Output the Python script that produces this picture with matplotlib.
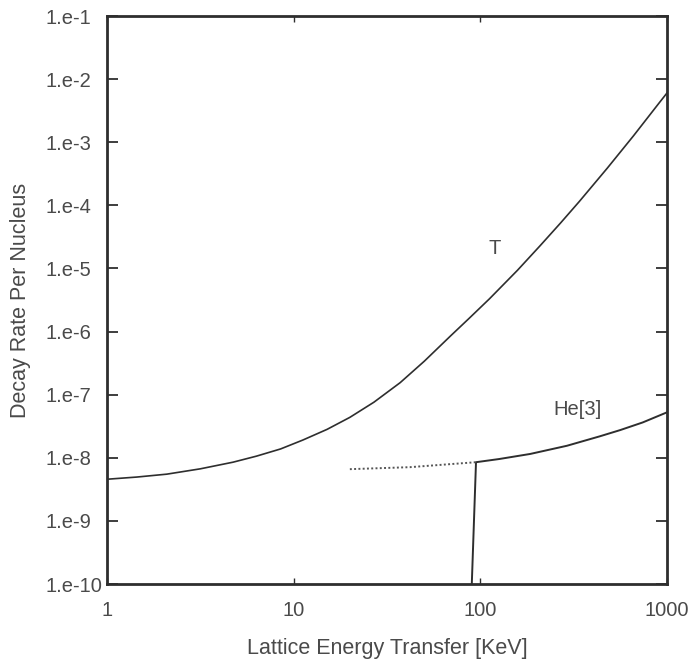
import matplotlib
matplotlib.use("Agg")
import matplotlib.pyplot as plt
from matplotlib.ticker import NullLocator

# T curve
t_energy = [1, 1.445, 2.09, 3.16, 4.73, 6.31, 8.51, 11.2, 15.1, 20.0, 26.9, 37.2,
            50.1, 69.2, 87.1, 112, 158, 209, 269, 339, 479, 661, 912, 1000]
t_rate = [4.57e-9, 4.95e-9, 5.5e-9, 6.68e-9, 8.51e-9, 1.06e-8, 1.38e-8, 1.91e-8,
          2.82e-8, 4.37e-8, 7.59e-8, 1.55e-7, 3.39e-7, 8.51e-7, 1.62e-6, 3.31e-6,
          9.33e-6, 2.29e-5, 5.25e-5, 1.15e-4, 3.89e-4, 1.26e-3, 4.27e-3, 6.03e-3]

# He[3] curve: threshold step and the solid part above it
he_energy = [90, 94.8, 126, 185, 236, 291, 437, 562, 741, 1000]
he_rate = [1e-10, 8.51e-9, 9.55e-9, 1.15e-8, 1.35e-8, 1.55e-8, 2.19e-8,
           2.75e-8, 3.63e-8, 5.25e-8]

# He[3] dotted extension below the threshold
he_dot_energy = [20, 42, 94.8]
he_dot_rate = [6.6e-9, 7.1e-9, 8.51e-9]

x_ticks = [1, 10, 100, 1000]
x_labels = ["1", "10", "100", "1000"]
y_ticks = [1e-10, 1e-9, 1e-8, 1e-7, 1e-6, 1e-5, 1e-4, 1e-3, 1e-2, 1e-1]
y_labels = ["1.e-10", "1.e-9", "1.e-8", "1.e-7", "1.e-6",
            "1.e-5", "1.e-4", "1.e-3", "1.e-2", "1.e-1"]

plt.rcParams["font.family"] = ["Liberation Sans", "DejaVu Sans"]
ink = "#2e2e2e"
txt = "#4a4a4a"
fs = 14.5

fig = plt.figure(figsize=(6.93, 6.61), dpi=100)
ax = fig.add_axes([107 / 693, 1 - 584 / 661, 560 / 693, 568 / 661])

ax.plot(t_energy, t_rate, color=ink, lw=1.2)
ax.plot(he_energy, he_rate, color=ink, lw=1.4)
ax.plot(he_dot_energy, he_dot_rate, color="#555555", lw=1.4, ls=(0, (1, 1.2)))

ax.set_xscale("log")
ax.set_yscale("log")
ax.set_xlim(1, 1000)
ax.set_ylim(1e-10, 1e-1)

ax.set_xticks(x_ticks)
ax.set_xticklabels(x_labels)
ax.set_yticks(y_ticks)
ax.set_yticklabels(y_labels)
ax.xaxis.set_minor_locator(NullLocator())
ax.yaxis.set_minor_locator(NullLocator())

ax.tick_params(axis="y", which="major", direction="in", length=8, width=1.3,
               left=True, right=True, pad=44, labelsize=fs, labelcolor=txt, color=ink)
for lab in ax.get_yticklabels():
    lab.set_horizontalalignment("left")
ax.tick_params(axis="x", which="major", direction="in", length=4, width=1.0,
               bottom=True, top=True, pad=12, labelsize=fs, labelcolor=txt, color=ink)

for sp in ax.spines.values():
    sp.set_linewidth(2.0)
    sp.set_color(ink)

ax.text(120, 2.1e-5, "T", fontsize=fs, color=txt, ha="center", va="center")
ax.text(333, 5.8e-8, "He[3]", fontsize=fs, color=txt, ha="center", va="center")

ax.set_xlabel("Lattice Energy Transfer [KeV]", fontsize=15.5, color=txt, labelpad=13)
fig.text(21 / 693, 1 - 300 / 661, "Decay Rate Per Nucleus", rotation=90,
         fontsize=15.5, color=txt, ha="center", va="center")

fig.savefig("out.png", dpi=100)
